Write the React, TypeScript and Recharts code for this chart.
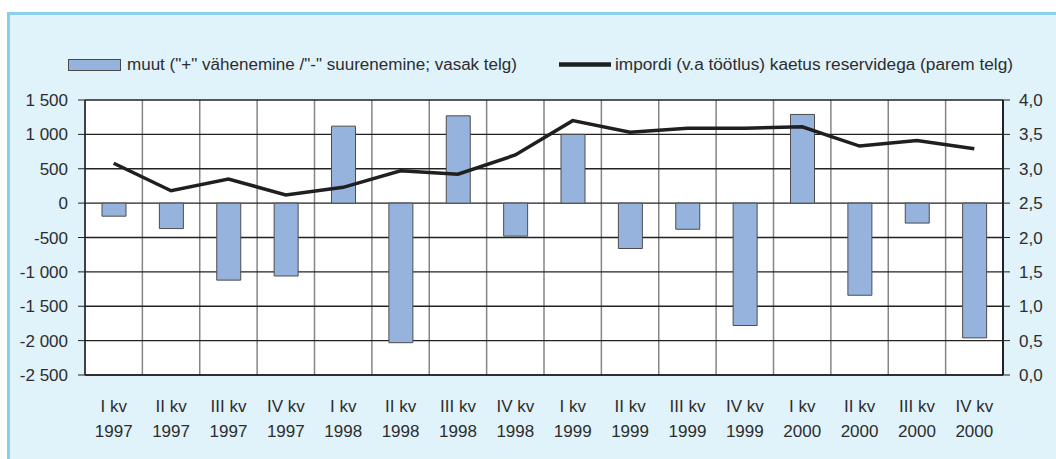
import React from 'react'
import {
  ComposedChart, Bar, Line, XAxis, YAxis, CartesianGrid,
} from 'recharts'

// ── データ ──
const quarters = ['I kv', 'II kv', 'III kv', 'IV kv', 'I kv', 'II kv', 'III kv', 'IV kv',
  'I kv', 'II kv', 'III kv', 'IV kv', 'I kv', 'II kv', 'III kv', 'IV kv']
const years = ['1997', '1997', '1997', '1997', '1998', '1998', '1998', '1998',
  '1999', '1999', '1999', '1999', '2000', '2000', '2000', '2000']
const muut = [-190, -370, -1120, -1060, 1120, -2030, 1270, -480,
  1000, -660, -380, -1780, 1290, -1340, -290, -1960]
const kaetus = [3.08, 2.68, 2.85, 2.62, 2.73, 2.97, 2.92, 3.2,
  3.7, 3.53, 3.59, 3.59, 3.61, 3.33, 3.41, 3.29]
const leftTicks = [-2500, -2000, -1500, -1000, -500, 0, 500, 1000, 1500]
const rightTicks = [0, 0.5, 1, 1.5, 2, 2.5, 3, 3.5, 4]

const legendBar = 'muut ("+" vähenemine /"-" suurenemine; vasak telg)'
const legendLine = 'impordi (v.a töötlus) kaetus reservidega (parem telg)'

const data = quarters.map((q, i) => ({ q: `${q} ${years[i]}`, muut: muut[i], kaetus: kaetus[i] }))

const FONT = '"Liberation Sans", Arial, sans-serif'
const TEXT = '#2d2d2d'
const BAR_FILL = '#95b3dd'

function fmtLeft(v: number) {
  const abs = Math.abs(v)
  const s = abs >= 1000 ? `${Math.floor(abs / 1000)} ${String(abs % 1000).padStart(3, '0')}` : String(abs)
  return v < 0 ? `-${s}` : s
}
const fmtRight = (v: number) => v.toFixed(1).replace('.', ',')

function QuarterTick(props: any) {
  const { x, y, index } = props
  return (
    <g transform={`translate(${x},${y})`}>
      <text x={0} y={37} textAnchor="middle" fill={TEXT} fontSize={17} fontFamily={FONT}>{quarters[index]}</text>
      <text x={0} y={62} textAnchor="middle" fill={TEXT} fontSize={17} fontFamily={FONT}>{years[index]}</text>
    </g>
  )
}

// 区切り線（カテゴリ境界）
const boundaries = ({ offset }: any) =>
  Array.from({ length: quarters.length + 1 }, (_, i) => offset.left + (i * offset.width) / quarters.length)

export default function App() {
  return (
    <div style={{ position: 'absolute', left: 0, top: 0, width: 1056, height: 459, overflow: 'hidden', background: '#fff' }}>
      <div style={{
        position: 'absolute', left: 7, top: 12, width: 1056, height: 459,
        borderTop: '3px solid #88cff0', borderLeft: '3px solid #88cff0', background: '#e0f2fa',
      }} />
      <svg width={1056} height={100} style={{ position: 'absolute', left: 0, top: 0 }}>
        <rect x={68.5} y={59.5} width={52} height={11} fill={BAR_FILL} stroke="#4a4a4a" strokeWidth={1} />
        <text x={127} y={70} fontSize={16} fontFamily={FONT} fill={TEXT} textLength={390} lengthAdjust="spacingAndGlyphs">{legendBar}</text>
        <line x1={559} x2={611} y1={64.5} y2={64.5} stroke="#1f1f1f" strokeWidth={4.5} />
        <text x={615} y={70} fontSize={16} fontFamily={FONT} fill={TEXT} textLength={398} lengthAdjust="spacingAndGlyphs">{legendLine}</text>
      </svg>
      <div style={{ position: 'absolute', left: 0, top: 0 }}>
        <ComposedChart width={1056} height={459} data={data} margin={{ top: 100, right: 8, bottom: 24, left: 25 }}>
          <CartesianGrid yAxisId="left" horizontal={false} verticalCoordinatesGenerator={boundaries}
            stroke="#858585" strokeWidth={1.5} fill="#ffffff" />
          <CartesianGrid yAxisId="left" vertical={false} stroke="#222" strokeWidth={1.3} />
          <XAxis dataKey="q" interval={0} height={60} tickLine={false} tickSize={0} tickMargin={0}
            axisLine={{ stroke: '#222', strokeWidth: 1.5 }} tick={<QuarterTick />} />
          <YAxis yAxisId="left" orientation="left" width={60} domain={[-2500, 1500]} ticks={leftTicks}
            tickFormatter={fmtLeft} tickSize={7} tickMargin={10}
            axisLine={{ stroke: '#222', strokeWidth: 1.5 }} tickLine={{ stroke: '#222' }}
            tick={{ fill: TEXT, fontSize: 17, fontFamily: FONT }} />
          <YAxis yAxisId="right" orientation="right" width={45} domain={[0, 4]} ticks={rightTicks}
            tickFormatter={fmtRight} tickSize={7} tickMargin={9}
            axisLine={{ stroke: '#222', strokeWidth: 2 }} tickLine={{ stroke: '#222' }}
            tick={{ fill: TEXT, fontSize: 17, fontFamily: FONT }} />
          <Bar yAxisId="left" dataKey="muut" barSize={24} fill={BAR_FILL} stroke="#4d4d4d" strokeWidth={1}
            isAnimationActive={false} />
          <Line yAxisId="right" type="linear" dataKey="kaetus" stroke="#1f1f1f" strokeWidth={3.5}
            dot={false} activeDot={false} isAnimationActive={false} />
        </ComposedChart>
      </div>
    </div>
  )
}
